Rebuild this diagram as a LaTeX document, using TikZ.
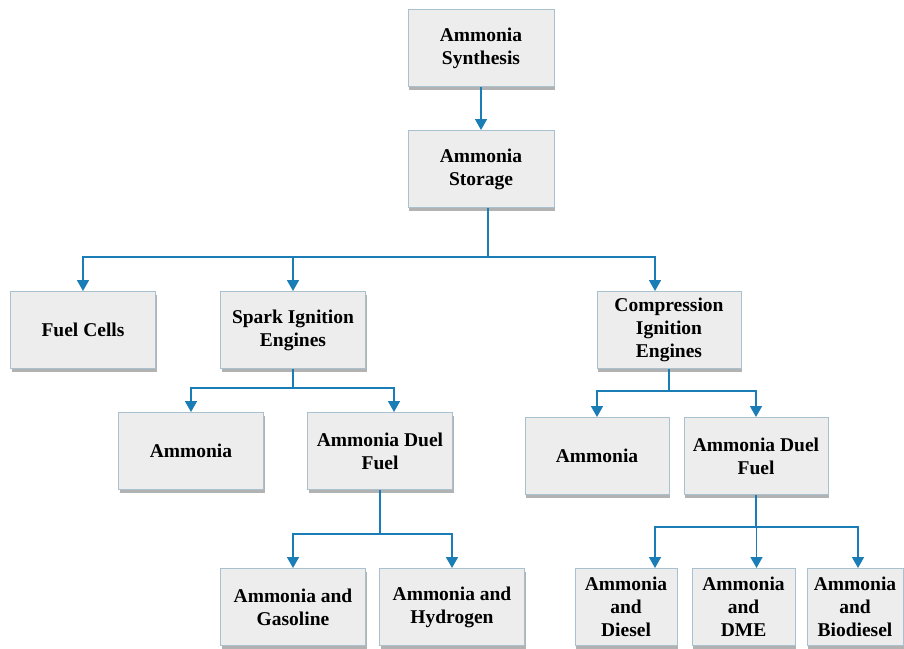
\documentclass[tikz,border=0pt]{standalone}
\usepackage{fontspec}
\setmainfont{Liberation Serif}
\usetikzlibrary{arrows.meta,shadows}
\definecolor{boxborder}{HTML}{A9C0CF}
\definecolor{boxfill}{HTML}{EDEDED}
\definecolor{conncol}{HTML}{1B7DB5}
\tikzset{
  box/.style={draw=boxborder, line width=1pt, fill=boxfill, align=center,
    inner sep=2pt, minimum width=145pt, minimum height=77pt,
    font=\fontsize{19.5}{23}\selectfont\bfseries,
    drop shadow={shadow xshift=1pt, shadow yshift=-3pt, fill=black!30, opacity=1}},
  line/.style={draw=conncol, line width=1.6pt},
  arr/.style={line, -{Triangle[width=12pt,length=11pt]}}
}
\begin{document}
\begin{tikzpicture}[x=1pt,y=-1pt]
\useasboundingbox (0,0) rectangle (904,648);
\node[box, minimum width=146pt] (syn) at (481,48) {Ammonia\\Synthesis};
\node[box, minimum width=146pt] (stor) at (481,169) {Ammonia\\Storage};
\node[box] (fc) at (83,330) {Fuel Cells};
\node[box] (si) at (293,330) {Spark Ignition\\Engines};
\node[box, minimum width=144pt] (ci) at (669,330) {Compression\\Ignition\\Engines};
\node[box] (sia) at (191,451) {Ammonia};
\node[box] (sidf) at (380,451) {Ammonia Duel\\Fuel};
\node[box] (gas) at (293,607) {Ammonia and\\Gasoline};
\node[box] (hyd) at (452,607) {Ammonia and\\Hydrogen};
\node[box, minimum width=144pt] (cia) at (597,456) {Ammonia};
\node[box, minimum width=144pt] (cidf) at (756,456) {Ammonia Duel\\Fuel};
\node[box, minimum width=102pt] (dsl) at (626,607) {Ammonia\\and\\Diesel};
\node[box, minimum width=103pt] (dme) at (743.5,607) {Ammonia\\and\\DME};
\node[box, minimum width=96pt] (bio) at (855,607) {Ammonia\\and\\Biodiesel};
% connectors
\draw[arr] (syn) -- (stor);
\coordinate (j1) at (488,257);
\draw[line] ([xshift=7pt]stor.south) -- (j1);
\draw[arr] (j1) -| (fc.north);
\draw[arr] (j1) -| (si.north);
\draw[arr] (j1) -| ([xshift=-14pt]ci.north);
\coordinate (j2) at (293,388);
\draw[line] (si.south) -- (j2);
\draw[arr] (j2) -| (sia.north);
\draw[arr] (j2) -| ([xshift=14pt]sidf.north);
\coordinate (j3) at (380,534);
\draw[line] (sidf.south) -- (j3);
\draw[arr] (j3) -| (gas.north);
\draw[arr] (j3) -| (hyd.north);
\coordinate (j4) at (669,391);
\draw[line] (ci.south) -- (j4);
\draw[arr] (j4) -| (cia.north);
\draw[arr] (j4) -| (cidf.north);
\coordinate (j5) at (756,527);
\draw[line] (cidf.south) -- (j5);
\draw[arr] (j5) -| ([xshift=29pt]dsl.north);
\draw[arr] (j5) -| ([xshift=13pt]dme.north);
\draw[arr] (j5) -| ([xshift=3pt]bio.north);
\end{tikzpicture}
\end{document}
